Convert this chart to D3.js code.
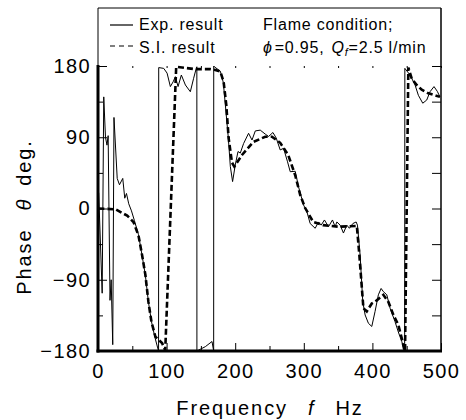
<!DOCTYPE html>
<html>
<head>
<meta charset="utf-8">
<script src="https://cdn.jsdelivr.net/npm/d3@7"></script>
<style>
  body { margin: 0; background: #fff; }
  svg { font-family: "Liberation Sans", Arial, sans-serif; }
</style>
</head>
<body>
<svg id="chart" width="466" height="420"></svg>
<script>
// experimental phase (solid)
const expFreq = [1, 6.1, 8.4, 10.9, 13.1, 14.8, 17.5, 19.2, 21.5, 23.3, 28, 31.3, 36.1, 39, 41.5, 44.8, 48.8, 53,
  59, 64, 69, 73.5, 78, 83, 86.7, 88.3, 88.5, 95.8, 100.7, 105.5, 109.5, 112.8, 116.7, 121.5, 127.4, 134.6, 139.4,
  142.6, 144.1, 144.2, 156.5, 166.2, 168.6, 168.7, 169.6, 178.3, 182.7, 190, 192.9, 196.2, 200.1, 204.1, 207.4,
  212.2, 219.5, 224.5, 229.3, 236.5, 243.8, 248.6, 255, 259.8, 265.6, 270.5, 276.3, 280.2, 287.5, 292.3, 299.6,
  304.5, 309.3, 316.6, 321.4, 325.3, 330.1, 336, 341.8, 345.7, 348.2, 353, 357.8, 362.7, 366.5, 371.5, 376.3,
  378.2, 382.1, 386, 389.4, 394.2, 399.1, 403.9, 408.7, 412.7, 416, 421, 425.8, 433, 437.8, 442.8, 446.5, 447,
  447.3, 454.9, 462.2, 467, 473.4, 479.2, 484, 489.8, 494.6, 498.5];
const expPhase = [20, -107, 141, 90, 80, 92, -116, -90, -172, 115, 38, 30, 38, 13, 19, 6, -3, -15,
  -33, -58, -84, -118, -143, -163, -175, -180, 178, 177, 171, 154, 160, 166.5, 154, 168.6, 156, 147.5, 164.5,
  175, 179, -180, -174.5, -168, -180, 180, 179, 173.5, 159, 89, 53, 34, 55, 72, 70,
  82, 95, 86.5, 98, 99, 94, 91, 96, 89, 74, 76, 59, 46.5, 47, 27.5, 4.5,
  -4, -19, -25, -17, -21, -14.5, -23, -14.5, -23, -17, -21, -31, -21, -25, -19, -17,
  -21, -59, -118, -134.5, -145, -149, -130, -109, -101, -105, -109, -126, -143, -156, -168, -179, -180,
  177, 168.6, 156, 143, 133, 137, 147.5, 154, 148, 141];

// S.I. model phase (dashed)
const siFreq = [0.5, 25.5, 42.5, 51.7, 59, 64.3, 69.1, 73.5, 77.9, 83.7, 93.4, 98, 114, 142, 163.8, 171, 178.3,
  183.1, 187, 190.4, 195.3, 198.7, 209.9, 226.3, 243.8, 253.6, 265.6, 277.3, 287.5, 294.8, 302, 313.7, 328.2,
  350, 377.3, 381, 384.6, 386.9, 391.8, 399.1, 406.4, 416, 423.3, 430.6, 437.8, 442.8, 446.1, 447.6, 452.4,
  457.4, 464.6, 471.9, 481.5, 491.3, 498.5];
const siPhase = [0, -1, -9, -17, -34, -59, -84, -118, -143, -162, -170, -179, 179, 176, 176, 175, 173,
  160, 131, 89, 58, 53, 67.6, 84, 90.7, 90.7, 83, 67.6, 42, 17, 0.6, -17, -21,
  -23, -22, -59, -100, -126, -130, -120, -116, -109, -118, -134.5, -147, -164, -177, -180, 178,
  164, 156, 150, 145.5, 143, 141];

const xMajor = [0, 100, 200, 300, 400, 500];
const xMinor = [50, 150, 250, 350, 450];
const yMajor = [-180, -90, 0, 90, 180];
const yMinor = [-135, -45, 45, 135];

const svg = d3.select('#chart');
const padL = 98, padR = 441, plotTop = 66, plotBottom = 351, frameTop = 8;

const x = d3.scaleLinear().domain([0, 500]).range([padL, padR]);
const y = d3.scaleLinear().domain([-180, 180]).range([plotBottom, plotTop]);

const tickFont = g => g.selectAll('text')
  .attr('font-size', 20).attr('letter-spacing', 1.4).attr('fill', '#000');

// bottom axis
svg.append('g').attr('transform', `translate(0,${plotBottom})`)
  .call(d3.axisBottom(x).tickValues(xMajor).tickSize(-8).tickPadding(13).tickFormat(d3.format('d')))
  .call(g => g.select('.domain').remove())
  .call(tickFont);
svg.append('g').attr('transform', `translate(0,${plotBottom})`)
  .call(d3.axisBottom(x).tickValues(xMinor).tickSize(-5).tickFormat(''))
  .call(g => g.select('.domain').remove());

// top ticks
svg.append('g').attr('transform', `translate(0,${plotTop})`)
  .call(d3.axisTop(x).tickValues(xMajor.concat(xMinor)).tickSize(-2).tickFormat(''))
  .call(g => g.select('.domain').remove());

// left axis
svg.append('g').attr('transform', `translate(${padL},0)`)
  .call(d3.axisLeft(y).tickValues(yMajor).tickSize(-9).tickPadding(7)
    .tickFormat(d => d < 0 ? '\u2212' + Math.abs(d) : d))
  .call(g => g.select('.domain').remove())
  .call(tickFont);
svg.append('g').attr('transform', `translate(${padL},0)`)
  .call(d3.axisLeft(y).tickValues(yMinor).tickSize(-5).tickFormat(''))
  .call(g => g.select('.domain').remove());

// right ticks
svg.append('g').attr('transform', `translate(${padR},0)`)
  .call(d3.axisRight(y).tickValues(yMajor.concat(yMinor)).tickSize(-9).tickFormat(''))
  .call(g => g.select('.domain').remove());

svg.selectAll('.tick line').attr('stroke', '#000').attr('stroke-width', 1);

// frame
const frame = svg.append('g').attr('stroke', '#000').attr('fill', 'none');
frame.append('line').attr('x1', padL).attr('x2', padR).attr('y1', frameTop).attr('y2', frameTop).attr('stroke-width', 1);
frame.append('line').attr('x1', padL).attr('x2', padL).attr('y1', frameTop).attr('y2', plotTop).attr('stroke-width', 1);
frame.append('line').attr('x1', padR).attr('x2', padR).attr('y1', frameTop).attr('y2', plotBottom).attr('stroke-width', 1.5);
frame.append('line').attr('x1', padL).attr('x2', padL).attr('y1', plotTop - 1).attr('y2', plotBottom + 1.5).attr('stroke-width', 3);
frame.append('line').attr('x1', padL - 1.5).attr('x2', padR + 1).attr('y1', plotBottom).attr('y2', plotBottom).attr('stroke-width', 3);

// curves
const line = d3.line().x(d => x(d[0])).y(d => y(d[1]));
const expData = d3.zip(expFreq, expPhase);
const siData = d3.zip(siFreq, siPhase);

svg.append('path').datum(expData)
  .attr('d', line).attr('fill', 'none').attr('stroke', '#000').attr('stroke-width', 1);
svg.append('path').datum(siData)
  .attr('d', line).attr('fill', 'none').attr('stroke', '#000').attr('stroke-width', 2.6)
  .attr('stroke-dasharray', '6,3');

// legend
const leg = svg.append('g').attr('font-size', 16).attr('letter-spacing', 0.8);
leg.append('line').attr('x1', 110).attr('x2', 133).attr('y1', 25).attr('y2', 25)
  .attr('stroke', '#000').attr('stroke-width', 1.2);
leg.append('line').attr('x1', 110).attr('x2', 134).attr('y1', 46).attr('y2', 46)
  .attr('stroke', '#000').attr('stroke-width', 1.2).attr('stroke-dasharray', '5,4');
leg.append('text').attr('x', 139).attr('y', 30).text('Exp. result');
leg.append('text').attr('x', 139).attr('y', 53).text('S.I. result');
leg.append('text').attr('x', 263).attr('y', 30).text('Flame condition;');
const cond = leg.append('text').attr('x', 263).attr('y', 53);
cond.append('tspan').attr('font-style', 'italic').text('\u03d5');
cond.append('tspan').attr('dx', 2).text('=0.95,');
cond.append('tspan').attr('dx', 7).attr('font-style', 'italic').text('Q');
cond.append('tspan').attr('font-style', 'italic').attr('font-size', 11).attr('dy', 3).text('f');
cond.append('tspan').attr('dy', -3).attr('dx', 0).text('=2.5 l/min');

// axis titles
const xt = svg.append('text').attr('x', 270).attr('y', 415).attr('text-anchor', 'middle')
  .attr('font-size', 20).attr('letter-spacing', 1.9);
xt.append('tspan').text('Frequency');
xt.append('tspan').attr('dx', 20).attr('font-style', 'italic').text('f');
xt.append('tspan').attr('dx', 20).text('Hz');

const yt = svg.append('text').attr('transform', 'translate(31,217) rotate(-90)').attr('text-anchor', 'middle')
  .attr('font-size', 20).attr('letter-spacing', 1.9);
yt.append('tspan').text('Phase');
yt.append('tspan').attr('dx', 18).attr('font-style', 'italic').text('\u03b8');
yt.append('tspan').attr('dx', 12).text('deg.');
</script>
</body>
</html>
